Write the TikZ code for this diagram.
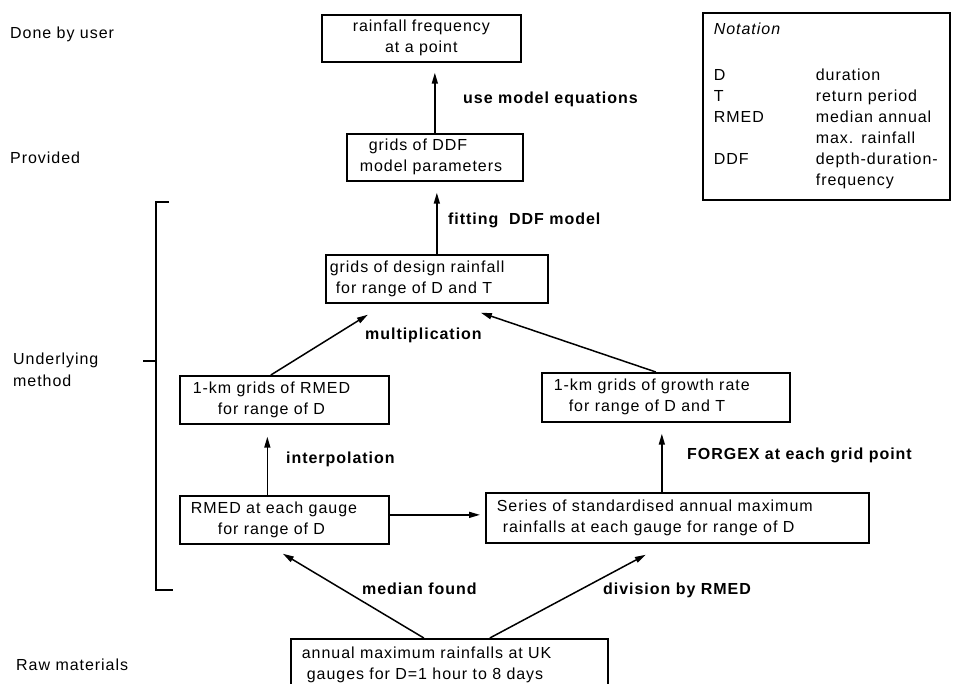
\documentclass[tikz,border=0pt]{standalone}
\usepackage{fontspec}
\setmainfont{Liberation Sans}[LetterSpace=6]
\usetikzlibrary{calc,arrows.meta}
\newcommand{\boxfont}{\fontsize{16}{21}\selectfont}
\newcommand{\Ln}[1]{\mbox{#1}}
\begin{document}
\begin{tikzpicture}[x=1pt,y=-1pt,
  box/.style={draw, line width=1.7pt, anchor=north west, inner ysep=0pt,
              align=left, font=\boxfont},
  lbl/.style={anchor=base west, inner sep=0pt, font=\boxfont\bfseries},
  side/.style={anchor=base west, inner sep=0pt, font=\boxfont},
  arr/.style={line width=1.5pt, -{Triangle[length=11pt,width=6pt]}},
  brk/.style={line width=1.5pt}]
\useasboundingbox (0,0) rectangle (958,683);

% boxes
\node[box, inner xsep=4pt, text width=191pt, align=center, minimum height=47pt] (user) at (321,14)
  {\Ln{rainfall frequency}\\\Ln{at a point}};
\node[box, inner xsep=13pt, text width=150pt, minimum height=47pt] (ddf) at (346,133)
  {\Ln{\hspace*{9pt}grids of DDF}\\\Ln{model parameters}};
\node[box, inner xsep=4pt, text width=214pt, minimum height=48pt] (design) at (325,254)
  {\Ln{grids of design rainfall}\\\Ln{\hspace*{6pt}for range of D and T}};
\node[box, inner xsep=13pt, text width=183pt, minimum height=48pt] (rmedgrid) at (179,375)
  {\Ln{1-km grids of RMED}\\\Ln{\hspace*{25pt}for range of D}};
\node[box, inner xsep=12pt, text width=224pt, minimum height=49pt] (growth) at (541,372)
  {\Ln{1-km grids of growth rate}\\\Ln{\hspace*{15pt}for range of D and T}};
\node[box, inner xsep=11pt, text width=187pt, minimum height=48pt] (gauge) at (179,495)
  {\Ln{RMED at each gauge}\\\Ln{\hspace*{27pt}for range of D}};
\node[box, inner xsep=11pt, text width=361pt, minimum height=50pt] (series) at (485,492)
  {\Ln{Series of standardised annual maximum}\\\Ln{\hspace*{6pt}rainfalls at each gauge for range of D}};
\node[box, inner xsep=11pt, text width=295pt, minimum height=53pt] (raw) at (290,638)
  {\Ln{annual maximum rainfalls at UK}\\\Ln{\hspace*{5pt}gauges for D=1 hour to 8 days}};

% notation
\node[box, inner xsep=11pt, text width=225pt, minimum height=187pt] (nota) at (702,12)
  {\Ln{\itshape Notation}\\[25pt]
   \Ln{\makebox[102pt][l]{D}duration}\\
   \Ln{\makebox[102pt][l]{T}return period}\\
   \Ln{\makebox[102pt][l]{RMED}median annual}\\
   \Ln{\makebox[102pt][l]{}max. rainfall}\\
   \Ln{\makebox[102pt][l]{DDF}depth-duration-}\\
   \Ln{\makebox[102pt][l]{}frequency}};

% side labels
\node[side] (s1) at (10,38) {Done by user};
\node[side] (s2) at (10,163) {Provided};
\node[side] (s3) at (13,364) {Underlying};
\node[side] (s3b) at (13,386) {method};
\node[side] (s4) at (16,670) {Raw materials};

% bracket
\draw[brk] (169,202) -- (156,202) -- (156,590) -- (173,590);
\draw[brk] (143,361) -- (156,361);

% arrows
\draw[arr] (ddf.north) -- ($(ddf.north |- user.south)+(0,10)$);
\draw[arr] (design.north) -- ($(design.north |- ddf.south)+(0,11)$);
\draw[arr] ($(rmedgrid.north)+(-13.5,0)$) -- ($(design.south)+(-69,11)$);
\draw[arr] ($(growth.north)+(-10,0)$) -- ($(design.south)+(44,9)$);
\draw[arr] ($(gauge.north)+(-17,0)$) -- ($(gauge.north |- rmedgrid.south)+(-17,12)$);
\draw[arr] ($(series.north)+(-15.5,0)$) -- ($(series.north |- growth.south)+(-15.5,11)$);
\draw[arr] ($(gauge.east)+(0,-5)$) -- ($(series.west |- gauge.east)+(-5,-5)$);
\draw[arr] ($(raw.north)+(-25.5,0)$) -- ($(gauge.south)+(-1.5,9)$);
\draw[arr] ($(raw.north)+(40.5,0)$) -- ($(series.south)+(-31.5,11)$);

% arrow labels
\node[lbl] (l1) at (463,103) {use model equations};
\node[lbl] (l2) at (448,224) {fitting\ \ DDF model};
\node[lbl] (l3) at (365,339) {multiplication};
\node[lbl] (l4) at (286,463) {interpolation};
\node[lbl] (l5) at (687,459) {FORGEX at each grid point};
\node[lbl] (l6) at (362,594) {median found};
\node[lbl] (l7) at (603,594) {division by RMED};
\end{tikzpicture}
\end{document}
